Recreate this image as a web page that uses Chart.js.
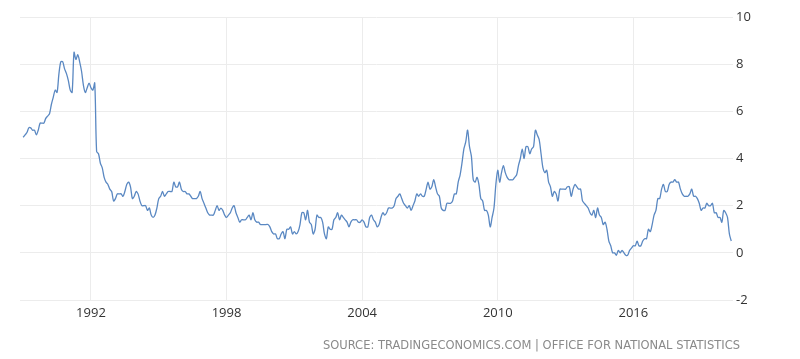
<!DOCTYPE html>
<html>
<head>
<meta charset="utf-8">
<script src="https://cdn.jsdelivr.net/npm/chart.js@4/dist/chart.umd.min.js"></script>
<style>
  html, body { margin: 0; padding: 0; background: #fff; }
  #wrap { position: relative; width: 800px; height: 359px; }
  #source { position: absolute; right: 60px; top: 338px; font-family: "DejaVu Sans", Tahoma, sans-serif; font-size: 11.5px; color: #8a8a8a; white-space: nowrap; }
</style>
</head>
<body>
<div id="wrap">
  <canvas id="c" width="800" height="359"></canvas>
  <div id="source">SOURCE: TRADINGECONOMICS.COM | OFFICE FOR NATIONAL STATISTICS</div>
</div>
<script>
// UK CPI annual inflation rate (%), monthly, starting January 1989
const startYear = 1989;
const cpi1989to1993 = [
  4.9, 5.0, 5.1, 5.3, 5.3, 5.2, 5.2, 5.0, 5.2, 5.5, 5.5, 5.5,
  5.7, 5.8, 5.9, 6.3, 6.6, 6.9, 6.8, 7.6, 8.1, 8.1, 7.8, 7.6,
  7.3, 6.9, 6.8, 8.5, 8.2, 8.4, 8.1, 7.7, 7.1, 6.8, 7.0, 7.2,
  7.0, 6.9, 7.2, 4.3, 4.2, 3.8, 3.6, 3.2, 3.0, 2.9, 2.7, 2.6,
  2.2, 2.3, 2.5, 2.5, 2.5, 2.4, 2.6, 2.9, 3.0, 2.8, 2.3, 2.4
];
const cpi1994to1998 = [
  2.6, 2.5, 2.2, 2.0, 2.0, 2.0, 1.8, 1.9, 1.6, 1.5, 1.6, 1.9,
  2.3, 2.4, 2.6, 2.4, 2.5, 2.6, 2.6, 2.6, 3.0, 2.8, 2.8, 3.0,
  2.7, 2.6, 2.6, 2.5, 2.5, 2.4, 2.3, 2.3, 2.3, 2.4, 2.6, 2.3,
  2.1, 1.9, 1.7, 1.6, 1.6, 1.6, 1.8, 2.0, 1.8, 1.9, 1.8, 1.6,
  1.5, 1.6, 1.7, 1.9, 2.0, 1.7, 1.5, 1.3, 1.4, 1.4, 1.4, 1.5
];
const cpi1999to2003 = [
  1.6, 1.4, 1.7, 1.4, 1.3, 1.3, 1.2, 1.2, 1.2, 1.2, 1.2, 1.1,
  0.9, 0.8, 0.8, 0.6, 0.6, 0.8, 0.9, 0.6, 1.0, 1.0, 1.1, 0.8,
  0.9, 0.8, 0.9, 1.2, 1.7, 1.7, 1.4, 1.8, 1.3, 1.2, 0.8, 1.0,
  1.6, 1.5, 1.5, 1.3, 0.8, 0.6, 1.1, 1.0, 1.0, 1.4, 1.5, 1.7,
  1.4, 1.6, 1.5, 1.4, 1.3, 1.1, 1.3, 1.4, 1.4, 1.4, 1.3, 1.3
];
const cpi2004to2008 = [
  1.4, 1.3, 1.1, 1.1, 1.5, 1.6, 1.4, 1.3, 1.1, 1.2, 1.5, 1.7,
  1.6, 1.7, 1.9, 1.9, 1.9, 2.0, 2.3, 2.4, 2.5, 2.3, 2.1, 2.0,
  1.9, 2.0, 1.8, 2.0, 2.2, 2.5, 2.4, 2.5, 2.4, 2.4, 2.7, 3.0,
  2.7, 2.8, 3.1, 2.8, 2.5, 2.4, 1.9, 1.8, 1.8, 2.1, 2.1, 2.1,
  2.2, 2.5, 2.5, 3.0, 3.3, 3.8, 4.4, 4.7, 5.2, 4.5, 4.1, 3.1
];
const cpi2009to2013 = [
  3.0, 3.2, 2.9, 2.3, 2.2, 1.8, 1.8, 1.6, 1.1, 1.5, 1.9, 2.9,
  3.5, 3.0, 3.4, 3.7, 3.4, 3.2, 3.1, 3.1, 3.1, 3.2, 3.3, 3.7,
  4.0, 4.4, 4.0, 4.5, 4.5, 4.2, 4.4, 4.5, 5.2, 5.0, 4.8, 4.2,
  3.6, 3.4, 3.5, 3.0, 2.8, 2.4, 2.6, 2.5, 2.2, 2.7, 2.7, 2.7,
  2.7, 2.8, 2.8, 2.4, 2.7, 2.9, 2.8, 2.7, 2.7, 2.2, 2.1, 2.0
];
const cpi2014to2020 = [
  1.9, 1.7, 1.6, 1.8, 1.5, 1.9, 1.6, 1.5, 1.2, 1.3, 1.0, 0.5,
  0.3, 0.0, 0.0, -0.1, 0.1, 0.0, 0.1, 0.0, -0.1, -0.1, 0.1, 0.2,
  0.3, 0.3, 0.5, 0.3, 0.3, 0.5, 0.6, 0.6, 1.0, 0.9, 1.2, 1.6,
  1.8, 2.3, 2.3, 2.7, 2.9, 2.6, 2.6, 2.9, 3.0, 3.0, 3.1, 3.0,
  3.0, 2.7, 2.5, 2.4, 2.4, 2.4, 2.5, 2.7, 2.4, 2.4, 2.3, 2.1,
  1.8, 1.9, 1.9, 2.1, 2.0, 2.0, 2.1, 1.7, 1.7, 1.5, 1.5, 1.3,
  1.8, 1.7, 1.5, 0.8, 0.5
];
const xTickYears = [1992, 1998, 2004, 2010, 2016];
const yTicks = [-2, 0, 2, 4, 6, 8, 10];

const allValues = [].concat(cpi1989to1993, cpi1994to1998, cpi1999to2003, cpi2004to2008, cpi2009to2013, cpi2014to2020);
const points = allValues.map((v, i) => ({ x: startYear + i / 12, y: v }));

const gridColor = '#ececec';
new Chart(document.getElementById('c'), {
  type: 'line',
  data: {
    datasets: [{
      data: points,
      borderColor: '#5a88c2',
      borderWidth: 1.3,
      pointRadius: 0,
      tension: 0.3,
      fill: false
    }]
  },
  options: {
    responsive: false,
    animation: false,
    layout: { padding: { left: 20, right: 0, top: 17, bottom: 0 } },
    plugins: { legend: { display: false }, tooltip: { enabled: false } },
    scales: {
      x: {
        type: 'linear',
        min: 1988.86,
        max: 2020.41,
        afterBuildTicks: s => { s.ticks = xTickYears.map(v => ({ value: v })); },
        afterFit: s => { s.height = 59; },
        grid: { color: gridColor, drawTicks: false },
        border: { display: false },
        ticks: {
          padding: 5,
          color: '#333',
          font: { family: '"Open Sans", "DejaVu Sans", sans-serif', size: 13 },
          callback: v => String(v),
          maxRotation: 0
        }
      },
      y: {
        position: 'right',
        min: -2,
        max: 10,
        afterBuildTicks: s => { s.ticks = yTicks.map(v => ({ value: v })); },
        afterFit: s => { s.width = 67; },
        grid: { color: gridColor, drawTicks: false },
        border: { display: false },
        ticks: {
          padding: 3,
          color: '#333',
          font: { family: '"Open Sans", "DejaVu Sans", sans-serif', size: 13 }
        }
      }
    }
  }
});
</script>
</body>
</html>
